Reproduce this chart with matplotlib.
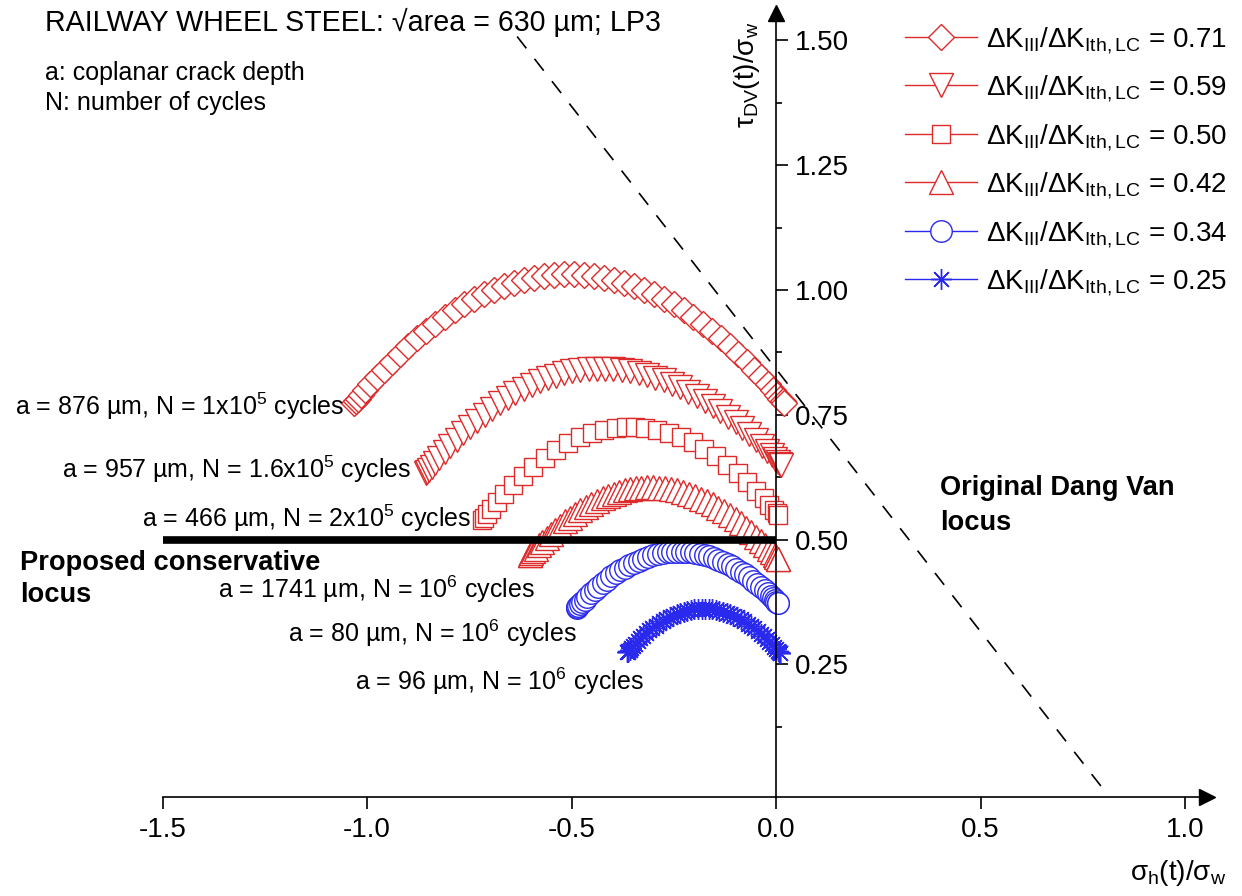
import matplotlib
matplotlib.use("Agg")
import matplotlib.pyplot as plt

plt.rcParams['font.family'] = ['Liberation Sans', 'DejaVu Sans']
plt.rcParams['mathtext.fontset'] = 'custom'
plt.rcParams['mathtext.rm'] = 'Liberation Sans'
plt.rcParams['mathtext.it'] = 'Liberation Sans:italic'
plt.rcParams['mathtext.bf'] = 'Liberation Sans:bold'

# ---- loading paths: sigma_h/sigma_w (x), tau_DV/sigma_w (y)
x_071 = [-1.031, -1.028, -1.023, -1.015, -1.005, -0.992, -0.976, -0.959, -0.940, -0.920,
         -0.899, -0.877, -0.855, -0.833, -0.810, -0.786, -0.762, -0.738, -0.714, -0.690,
         -0.666, -0.641, -0.616, -0.592, -0.567, -0.543, -0.518,
         -0.494, -0.469, -0.445, -0.420, -0.396, -0.371, -0.346, -0.322, -0.298, -0.274,
         -0.250, -0.226, -0.203, -0.179, -0.157, -0.135, -0.113, -0.092, -0.072, -0.053,
         -0.036, -0.020, -0.007, 0.003, 0.011, 0.016, 0.019]
y_071 = [0.774, 0.777, 0.782, 0.789, 0.799, 0.811, 0.825, 0.840, 0.856, 0.872,
         0.888, 0.903, 0.918, 0.932, 0.946, 0.959, 0.971, 0.982, 0.992, 1.000,
         1.008, 1.015, 1.021, 1.025, 1.028, 1.031, 1.032,
         1.032, 1.031, 1.028, 1.025, 1.021, 1.015, 1.008, 1.000, 0.992, 0.982,
         0.971, 0.959, 0.946, 0.932, 0.918, 0.903, 0.888, 0.872, 0.856, 0.840,
         0.825, 0.811, 0.799, 0.789, 0.782, 0.777, 0.774]

x_059 = [-0.855, -0.853, -0.849, -0.842, -0.834, -0.823, -0.810, -0.796, -0.781, -0.765,
         -0.748, -0.730, -0.712, -0.694, -0.675, -0.656, -0.637, -0.617, -0.597, -0.578,
         -0.558, -0.538, -0.518, -0.498, -0.478, -0.458, -0.438,
         -0.418, -0.398, -0.377, -0.357, -0.336, -0.315, -0.295, -0.275, -0.254, -0.234,
         -0.214, -0.194, -0.174, -0.155, -0.136, -0.117, -0.099, -0.082, -0.065, -0.049,
         -0.035, -0.022, -0.011, -0.002, 0.005, 0.009, 0.012]
y_059 = [0.634, 0.636, 0.640, 0.646, 0.654, 0.664, 0.675, 0.688, 0.700, 0.713,
         0.726, 0.738, 0.750, 0.762, 0.773, 0.783, 0.793, 0.801, 0.809, 0.817,
         0.823, 0.828, 0.833, 0.837, 0.839, 0.841, 0.842,
         0.842, 0.841, 0.839, 0.837, 0.834, 0.829, 0.824, 0.819, 0.812, 0.805,
         0.796, 0.787, 0.778, 0.768, 0.757, 0.746, 0.735, 0.723, 0.711, 0.699,
         0.688, 0.678, 0.669, 0.661, 0.656, 0.652, 0.650]

x_050 = [-0.718, -0.714, -0.707, -0.696, -0.682, -0.664, -0.642, -0.619, -0.593, -0.566,
         -0.537, -0.508, -0.479, -0.450, -0.421, -0.392, -0.367,
         -0.345, -0.320, -0.291, -0.262, -0.233, -0.204, -0.175, -0.146, -0.119, -0.094,
         -0.070, -0.048, -0.030, -0.016, -0.005, 0.002, 0.006]
y_050 = [0.540, 0.544, 0.551, 0.562, 0.575, 0.592, 0.610, 0.628, 0.646, 0.663,
         0.680, 0.693, 0.705, 0.713, 0.720, 0.724, 0.726,
         0.726, 0.724, 0.720, 0.714, 0.706, 0.695, 0.682, 0.667, 0.650, 0.633,
         0.616, 0.598, 0.583, 0.570, 0.560, 0.553, 0.549]

x_042 = [-0.602, -0.601, -0.598, -0.593, -0.587, -0.580, -0.571, -0.561, -0.551, -0.540,
         -0.528, -0.516, -0.504, -0.491, -0.478, -0.465, -0.452, -0.438, -0.424, -0.411,
         -0.397, -0.384, -0.370, -0.356, -0.342, -0.329, -0.315,
         -0.301, -0.286, -0.271, -0.257, -0.242, -0.227, -0.213, -0.198, -0.184, -0.169,
         -0.155, -0.141, -0.127, -0.113, -0.099, -0.086, -0.073, -0.061, -0.049, -0.037,
         -0.027, -0.018, -0.010, -0.003, 0.001, 0.004, 0.006]
y_042 = [0.468, 0.469, 0.472, 0.476, 0.481, 0.488, 0.495, 0.503, 0.512, 0.520,
         0.528, 0.537, 0.544, 0.552, 0.559, 0.566, 0.572, 0.578, 0.583, 0.588,
         0.592, 0.596, 0.599, 0.601, 0.603, 0.604, 0.605,
         0.605, 0.604, 0.603, 0.601, 0.599, 0.595, 0.592, 0.587, 0.582, 0.577,
         0.571, 0.564, 0.557, 0.549, 0.541, 0.533, 0.524, 0.515, 0.506, 0.497,
         0.489, 0.481, 0.474, 0.469, 0.464, 0.461, 0.460]

x_034 = [-0.487, -0.486, -0.483, -0.480, -0.475, -0.468, -0.461, -0.452, -0.443, -0.434,
         -0.424, -0.414, -0.403, -0.392, -0.381, -0.370, -0.359, -0.347, -0.335, -0.324,
         -0.312, -0.301, -0.289, -0.277, -0.265, -0.254, -0.242,
         -0.231, -0.219, -0.208, -0.197, -0.185, -0.174, -0.163, -0.152, -0.141, -0.130,
         -0.118, -0.108, -0.097, -0.086, -0.076, -0.066, -0.056, -0.046, -0.037, -0.028,
         -0.020, -0.013, -0.007, -0.002, 0.001, 0.004, 0.005]
y_034 = [0.363, 0.364, 0.366, 0.370, 0.374, 0.379, 0.385, 0.392, 0.399, 0.405,
         0.412, 0.419, 0.426, 0.432, 0.438, 0.443, 0.448, 0.453, 0.457, 0.461,
         0.465, 0.468, 0.470, 0.472, 0.474, 0.475, 0.475,
         0.475, 0.475, 0.474, 0.472, 0.471, 0.468, 0.466, 0.462, 0.459, 0.455,
         0.451, 0.446, 0.441, 0.435, 0.430, 0.424, 0.417, 0.411, 0.405, 0.399,
         0.393, 0.387, 0.382, 0.378, 0.375, 0.373, 0.372]

x_025 = [-0.364, -0.363, -0.361, -0.358, -0.355, -0.350, -0.345, -0.338, -0.332, -0.325,
         -0.317, -0.310, -0.302, -0.294, -0.286, -0.277, -0.269, -0.260, -0.252, -0.243,
         -0.235, -0.226, -0.217, -0.208, -0.200, -0.191, -0.182,
         -0.174, -0.165, -0.156, -0.147, -0.139, -0.130, -0.121, -0.112, -0.104, -0.095,
         -0.086, -0.078, -0.069, -0.061, -0.053, -0.045, -0.037, -0.030, -0.023, -0.016,
         -0.010, -0.004, 0.001, 0.004, 0.007, 0.009, 0.010]
y_025 = [0.274, 0.275, 0.277, 0.279, 0.283, 0.287, 0.291, 0.296, 0.302, 0.307,
         0.312, 0.318, 0.323, 0.327, 0.332, 0.336, 0.340, 0.344, 0.347, 0.350,
         0.353, 0.355, 0.357, 0.359, 0.360, 0.361, 0.361,
         0.361, 0.361, 0.360, 0.359, 0.357, 0.355, 0.353, 0.350, 0.347, 0.344,
         0.340, 0.336, 0.331, 0.327, 0.322, 0.317, 0.311, 0.306, 0.300, 0.295,
         0.290, 0.285, 0.281, 0.277, 0.275, 0.273, 0.272]

ratios = ['0.71', '0.59', '0.50', '0.42', '0.34', '0.25']

# loci
dangvan_x = [-0.633, 0.80]
dangvan_y = [1.508, 0.0]
conservative_x = [-1.5, 0.0]
conservative_y = [0.5, 0.5]

xticks = [-1.5, -1.0, -0.5, 0.0, 0.5, 1.0]
xticklabels = ['-1.5', '-1.0', '-0.5', '0.0', '0.5', '1.0']
yticks = [0.25, 0.50, 0.75, 1.00, 1.25, 1.50]
yticklabels = ['0.25', '0.50', '0.75', '1.00', '1.25', '1.50']
yminor = [0.125, 0.375, 0.625, 0.875, 1.125, 1.375]

# ---- figure geometry (pixels)
W, H = 1242, 896
X0PX, XS = 776, 409
Y0PX, YS = 789, 499
XAXIS_Y = -0.016   # x axis sits a little below tau = 0

def fx(p):
    return p / W

def fy(p):
    return 1 - p / H

fig = plt.figure(figsize=(W / 100, H / 100), dpi=100)
ax = fig.add_axes([0, 0, 1, 1])
ax.set_xlim(-X0PX / XS, (W - X0PX) / XS)
ax.set_ylim((Y0PX - H) / YS, Y0PX / YS)

red = '#dd2a2a'
blue = '#2a2aee'
series = [
    (x_071, y_071, 'D', 13.5, red),
    (x_059, y_059, 'v', 17, red),
    (x_050, y_050, 's', 13, red),
    (x_042, y_042, '^', 17, red),
    (x_034, y_034, 'o', 15.5, blue),
    (x_025, y_025, (8, 2, 0), 15, blue),
]
for (xs, ys, mk, ms, col), r in zip(series, ratios):
    ax.plot(xs, ys, ls='-', lw=1.0, color=col, marker=mk, ms=ms,
            mfc='white', mec=col, mew=1.0,
            label=r'$\Delta$K$_{\mathrm{III}}$/$\Delta$K$_{\mathrm{Ith,LC}}$ = ' + r)

ax.plot(conservative_x, conservative_y, color='black', lw=5.5, solid_capstyle='butt', zorder=6)
ax.plot(dangvan_x, dangvan_y, color='black', lw=1.2, ls=(0, (9, 8)), zorder=6)

# axes through the origin
for s in ['left', 'top']:
    ax.spines[s].set_visible(False)
ax.spines['bottom'].set_position(('data', XAXIS_Y))
ax.spines['right'].set_position(('data', 0))
ax.spines['bottom'].set_bounds(-1.5, 1.054)
ax.spines['right'].set_bounds(XAXIS_Y, 1.556)
ax.spines['bottom'].set_linewidth(1.2)
ax.spines['right'].set_linewidth(1.2)
ax.xaxis.set_ticks_position('bottom')
ax.yaxis.set_ticks_position('right')
ax.set_xticks(xticks)
ax.set_xticklabels(xticklabels)
ax.set_yticks(yticks)
ax.set_yticklabels(yticklabels)
ax.set_yticks(yminor, minor=True)
ax.tick_params(axis='x', direction='out', length=8.5, width=1.2, labelsize=20, pad=6)
ax.tick_params(axis='y', which='major', direction='out', length=8.5, width=1.2, labelsize=20, pad=5)
ax.tick_params(axis='y', which='minor', direction='out', length=4.5, width=1.2)
ax.plot(1.054, XAXIS_Y, marker='>', ms=12, color='black', clip_on=False)
ax.plot(0, 1.556, marker='^', ms=12, color='black', clip_on=False)

ax.legend(loc='upper right', bbox_to_anchor=(fx(1227), fy(25)), bbox_transform=fig.transFigure,
          frameon=False, fontsize=20, handlelength=2.6, handletextpad=0.3,
          labelspacing=0.64, borderaxespad=0, borderpad=0)

# texts
fig.text(fx(45), fy(31), 'RAILWAY WHEEL STEEL: √area = 630 µm; LP3', fontsize=20.6, va='baseline')
fig.text(fx(45), fy(80), 'a: coplanar crack depth', fontsize=18, va='baseline')
fig.text(fx(45), fy(110), 'N: number of cycles', fontsize=18, va='baseline')

notes = [
    (15, 415, 'a = 876 µm, N = 1x10$^{5}$ cycles'),
    (62, 478, 'a = 957 µm, N = 1.6x10$^{5}$ cycles'),
    (142, 527, 'a = 466 µm, N = 2x10$^{5}$ cycles'),
    (218, 598, 'a = 1741 µm, N = 10$^{6}$ cycles'),
    (288, 642, 'a = 80 µm, N = 10$^{6}$ cycles'),
    (355, 690, 'a = 96 µm, N = 10$^{6}$ cycles'),
]
for px, py, t in notes:
    fig.text(fx(px), fy(py), t, fontsize=18, va='baseline')

fig.text(fx(20), fy(570), 'Proposed conservative', fontsize=19.6, fontweight='bold', va='baseline')
fig.text(fx(20), fy(602), 'locus', fontsize=19.6, fontweight='bold', va='baseline')
fig.text(fx(940), fy(495), 'Original Dang Van', fontsize=19.6, fontweight='bold', va='baseline')
fig.text(fx(940), fy(530), 'locus', fontsize=19.6, fontweight='bold', va='baseline')

fig.text(fx(747), fy(75), 'τ$_{\\mathrm{DV}}$(t)/σ$_{\\mathrm{w}}$', fontsize=20, rotation=90,
         ha='center', va='center')
fig.text(fx(1130), fy(880), 'σ$_{\\mathrm{h}}$(t)/σ$_{\\mathrm{w}}$', fontsize=20, va='baseline')

fig.savefig('out.png', dpi=100)
